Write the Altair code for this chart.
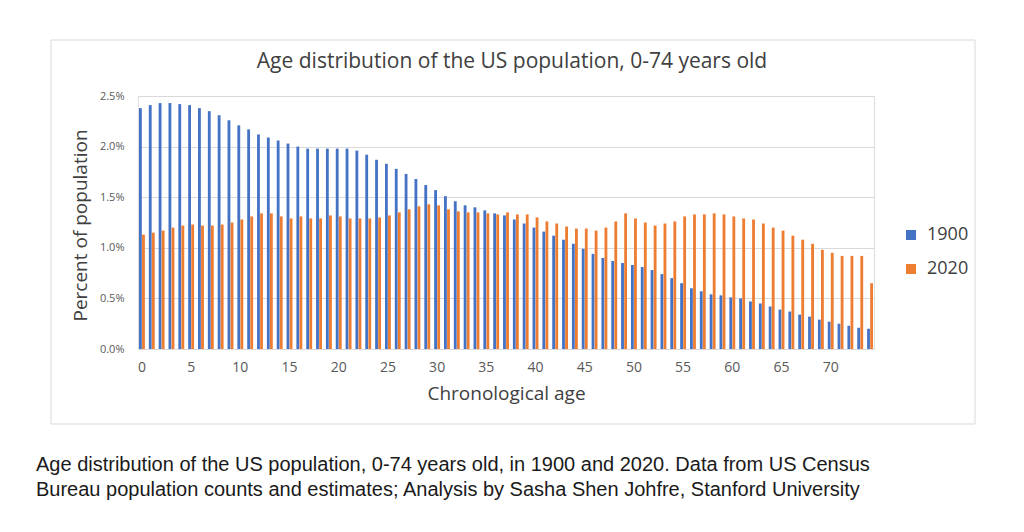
import altair as alt
import pandas as pd

ages = list(range(75))
pct_1900 = [2.38, 2.41, 2.43, 2.43, 2.42, 2.41, 2.38, 2.35, 2.31, 2.26,
            2.21, 2.17, 2.12, 2.09, 2.06, 2.03, 2.00, 1.98, 1.98, 1.98,
            1.98, 1.98, 1.96, 1.92, 1.87, 1.83, 1.78, 1.73, 1.68, 1.62,
            1.57, 1.51, 1.46, 1.42, 1.40, 1.37, 1.34, 1.32, 1.28, 1.24,
            1.20, 1.16, 1.12, 1.08, 1.04, 0.99, 0.94, 0.90, 0.87, 0.85,
            0.83, 0.81, 0.78, 0.74, 0.70, 0.65, 0.60, 0.57, 0.54, 0.53,
            0.51, 0.50, 0.47, 0.45, 0.42, 0.39, 0.37, 0.34, 0.32, 0.29,
            0.27, 0.25, 0.23, 0.21, 0.20]
pct_2020 = [1.13, 1.15, 1.17, 1.20, 1.22, 1.23, 1.22, 1.22, 1.23, 1.25,
            1.28, 1.31, 1.34, 1.34, 1.31, 1.29, 1.31, 1.29, 1.29, 1.32,
            1.31, 1.29, 1.29, 1.29, 1.30, 1.32, 1.35, 1.38, 1.41, 1.43,
            1.42, 1.38, 1.36, 1.35, 1.35, 1.34, 1.33, 1.35, 1.33, 1.33,
            1.30, 1.26, 1.24, 1.21, 1.19, 1.19, 1.17, 1.20, 1.26, 1.34,
            1.29, 1.25, 1.22, 1.24, 1.26, 1.31, 1.33, 1.33, 1.34, 1.33,
            1.31, 1.29, 1.28, 1.24, 1.20, 1.17, 1.12, 1.08, 1.04, 0.98,
            0.95, 0.92, 0.92, 0.92, 0.65]
years = ["1900", "2020"]
colors = ["#4472C4", "#ED7D31"]
x_tick_values = list(range(0, 75, 5))
y_tick_values = [0, 0.5, 1.0, 1.5, 2.0, 2.5]

title_text = "Age distribution of the US population, 0-74 years old"
caption_lines = [
    "Age distribution of the US population, 0-74 years old, in 1900 and 2020. Data from US Census",
    "Bureau population counts and estimates; Analysis by Sasha Shen Johfre, Stanford University",
]

rows = []
for a, v1, v2 in zip(ages, pct_1900, pct_2020):
    rows.append({"age": a, "year": years[0], "pct": v1})
    rows.append({"age": a, "year": years[1], "pct": v2})
df = pd.DataFrame(rows)

FONT = "Open Sans"

bars = alt.Chart(df).mark_bar().encode(
    x=alt.X(
        "age:O",
        scale=alt.Scale(paddingInner=0.4, paddingOuter=0.1),
        axis=alt.Axis(
            values=x_tick_values,
            labelAngle=0,
            ticks=False,
            domainColor="#d9d9d9",
            labelColor="#595959",
            labelFontSize=14,
            labelFont=FONT,
            labelPadding=11,
            title="Chronological age",
            titleFont=FONT,
            titleFontSize=19,
            titleFontWeight="normal",
            titleColor="#404040",
            titleY=44,
            titleBaseline="middle",
            grid=False,
        ),
    ),
    xOffset=alt.XOffset("year:N", scale=alt.Scale(paddingInner=0.08)),
    y=alt.Y(
        "pct:Q",
        scale=alt.Scale(domain=[0, 2.5], nice=False),
        axis=alt.Axis(
            values=y_tick_values,
            labelExpr="format(datum.value, '.1f') + '%'",
            domain=False,
            ticks=False,
            gridColor="#d9d9d9",
            labelColor="#595959",
            labelFontSize=11,
            labelFont=FONT,
            labelPadding=14,
            title="Percent of population",
            titleFont=FONT,
            titleFontSize=19,
            titleFontWeight="normal",
            titleColor="#404040",
            titleX=-58,
            titleY=129,
            titleAngle=270,
            titleAlign="center",
            titleBaseline="middle",
        ),
    ),
    color=alt.Color(
        "year:N",
        scale=alt.Scale(domain=years, range=colors),
        legend=alt.Legend(
            title=None,
            orient="none",
            legendX=764,
            legendY=130,
            symbolType="square",
            symbolSize=100,
            symbolStrokeWidth=0,
            labelFont=FONT,
            labelFontSize=18,
            labelColor="#404040",
            labelOffset=7,
            rowPadding=16,
            padding=0,
        ),
    ),
)

one_row = alt.Data(values=[{}])

border = alt.Chart(one_row).mark_rect(
    fill="transparent", stroke="#d9d9d9", strokeWidth=1
).encode(
    x=alt.value(-87), x2=alt.value(837), y=alt.value(-56), y2=alt.value(328)
)

title = alt.Chart(one_row).mark_text(
    align="center",
    baseline="alphabetic",
    font=FONT,
    fontSize=21,
    color="#404040",
).encode(
    x=alt.value(374),
    y=alt.value(-28),
    text=alt.value(title_text),
)

caption = alt.Chart(one_row).mark_text(
    align="left",
    baseline="alphabetic",
    font="Liberation Sans",
    fontSize=20,
    color="#1a1a1a",
    lineBreak="\n",
    lineHeight=25,
).encode(
    x=alt.value(-102),
    y=alt.value(375),
    text=alt.value("\n".join(caption_lines)),
)

chart = alt.layer(border, bars, title, caption).properties(
    width=736,
    height=253,
    autosize=alt.AutoSizeParams(type="none"),
    padding={"left": 130, "top": 88, "right": 142, "bottom": 170},
).configure_view(stroke=None).configure(background="white")

chart.save("out.html", embed_options={"renderer": "svg", "actions": False})
